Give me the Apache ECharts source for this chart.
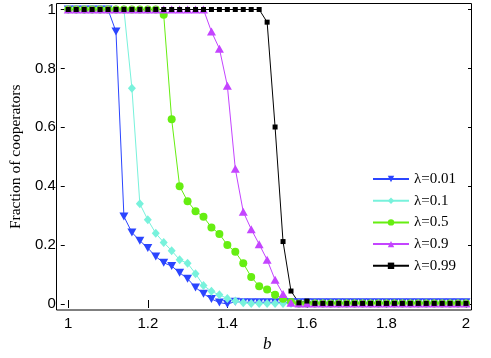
<!DOCTYPE html>
<html><head><meta charset="utf-8">
<script src="https://cdn.jsdelivr.net/npm/echarts@6/dist/echarts.min.js"></script>
<style>html,body{margin:0;padding:0;background:#fff}#c{width:491px;height:358px}</style>
</head><body><div id="c"></div>
<script>
var bValues = [1.00,1.02,1.04,1.06,1.08,1.10,1.12,1.14,1.16,1.18,1.20,1.22,1.24,1.26,1.28,1.30,1.32,1.34,1.36,1.38,1.40,1.42,1.44,1.46,1.48,1.50,1.52,1.54,1.56,1.58,1.60,1.62,1.64,1.66,1.68,1.70,1.72,1.74,1.76,1.78,1.80,1.82,1.84,1.86,1.88,1.90,1.92,1.94,1.96,1.98,2.00];
var lam001 = [1,1,1,1,1,1,0.925,0.297,0.243,0.215,0.19,0.161,0.14,0.129,0.106,0.086,0.056,0.035,0.017,0.005,0.0,0.008,0.006,0.006,0.006,0.006,0.006,0.006,0.006,0.006,0.006,0.006,0.006,0.006,0.006,0.006,0.006,0.006,0.006,0.006,0.006,0.006,0.006,0.006,0.006,0.006,0.006,0.006,0.006,0.006,0.006];
var lam01 = [1,1,1,1,1,1,1,1,0.733,0.34,0.286,0.24,0.209,0.181,0.15,0.138,0.103,0.063,0.043,0.031,0.019,0.01,0.004,0.002,0.002,0.002,0.002,0.002,0.002,0.002,0.002,0.002,0.002,0.002,0.002,0.002,0.002,0.002,0.002,0.002,0.002,0.002,0.002,0.002,0.002,0.002,0.002,0.002,0.002,0.002,0.002];
var lam05 = [1,1,1,1,1,1,1,1,1,1,1,1,0.982,0.627,0.4,0.349,0.315,0.296,0.26,0.238,0.2,0.177,0.138,0.092,0.06,0.049,0.031,0.018,0.007,0.002,0.002,0.002,0.002,0.002,0.002,0.002,0.002,0.002,0.002,0.002,0.002,0.002,0.002,0.002,0.002,0.002,0.002,0.002,0.002,0.002,0.002];
var lam09 = [1,1,1,1,1,1,1,1,1,1,1,1,1,1,1,1,1,1,0.925,0.867,0.741,0.459,0.313,0.254,0.203,0.15,0.082,0.034,0.004,0.002,0.002,0.002,0.002,0.002,0.002,0.002,0.002,0.002,0.002,0.002,0.002,0.002,0.002,0.002,0.002,0.002,0.002,0.002,0.002,0.002,0.002];
var lam099 = [1,1,1,1,1,1,1,1,1,1,1,1,1,1,1,1,1,1,1,1,1,1,1,1,1,0.957,0.601,0.212,0.044,0.004,0.01,0.002,0.002,0.002,0.002,0.002,0.002,0.002,0.002,0.002,0.002,0.002,0.002,0.002,0.002,0.002,0.002,0.002,0.002,0.002,0.002];
var seriesNames = ['\u03bb=0.01','\u03bb=0.1','\u03bb=0.5','\u03bb=0.9','\u03bb=0.99'];
var xTicks = ['1','1.2','1.4','1.6','1.8','2'];
var yTicks = ['0','0.2','0.4','0.6','0.8','1'];

function pairs(arr){ return arr.map(function(v,i){ return [bValues[i], v]; }); }

var styles = [
  {color:'#2b45ff', symbol:'triangle', rotate:180, size:[9,8]},
  {color:'#78f2dc', symbol:'diamond', rotate:0, size:[8,9]},
  {color:'#66ee11', symbol:'circle', rotate:0, size:8},
  {color:'#c444ff', symbol:'triangle', rotate:0, size:[9,8]},
  {color:'#000000', symbol:'rect', rotate:0, size:5}
];
var dataSets = [lam001, lam01, lam05, lam09, lam099];

var chart = echarts.init(document.getElementById('c'), null, {renderer:'canvas'});
var axisCommon = {
  type:'value', min:0, max:1, interval:0.2,
  axisLine:{show:false},
  splitLine:{show:false},
  axisTick:{show:true, inside:true, length:4, lineStyle:{color:'#000', width:1}}
};
var option = {
  animation:false,
  backgroundColor:'#fff',
  grid:{left:64, right:25, top:9.5, bottom:54, containLabel:false},
  graphic:[{type:'rect', shape:{x:56.5, y:3.5, width:415, height:306.5}, style:{fill:null, stroke:'#000', lineWidth:1}, z:100, silent:true}],
  xAxis:[
    Object.assign({}, axisCommon, {min:1, max:2, position:'bottom', offset:6,
      name:'b', nameLocation:'middle', nameGap:26,
      nameTextStyle:{fontFamily:'Liberation Serif', fontStyle:'italic', fontSize:17, color:'#000'},
      axisLabel:{show:true, margin:6, fontFamily:'Liberation Sans', fontSize:15, color:'#000',
        formatter:function(v){ var s=String(Math.round(v*10)/10); return xTicks.indexOf(s)>=0?s:''; }}}),
    Object.assign({}, axisCommon, {min:1, max:2, position:'top', offset:6.5, axisLabel:{show:false}})
  ],
  yAxis:[
    Object.assign({}, axisCommon, {position:'left', offset:7.5,
      name:'Fraction of cooperators', nameLocation:'middle', nameGap:34, nameRotate:90,
      nameTextStyle:{fontFamily:'Liberation Serif', fontSize:15.5, color:'#000'},
      axisLabel:{show:true, margin:5, fontFamily:'Liberation Sans', fontSize:15, color:'#000',
        formatter:function(v){ var s=String(Math.round(v*10)/10); return yTicks.indexOf(s)>=0?s:''; }}}),
    Object.assign({}, axisCommon, {position:'right', offset:6, axisLabel:{show:false}})
  ],
  legend:{
    orient:'vertical', left:367, top:166.5, itemWidth:36, itemHeight:8, itemGap:6.7,
    textStyle:{fontFamily:'Liberation Serif', fontSize:15, color:'#000'},
    data:seriesNames
  },
  series: dataSets.map(function(d,i){
    var s = styles[i];
    return {
      name:seriesNames[i], type:'line', xAxisIndex:0, yAxisIndex:0,
      data:pairs(d), clip:false,
      symbol:s.symbol, symbolSize:s.size, symbolRotate:s.rotate, showAllSymbol:true,
      lineStyle:{color:s.color, width:1}, itemStyle:{color:s.color},
      emphasis:{disabled:true}
    };
  })
};
chart.setOption(option);
</script>
</body></html>
